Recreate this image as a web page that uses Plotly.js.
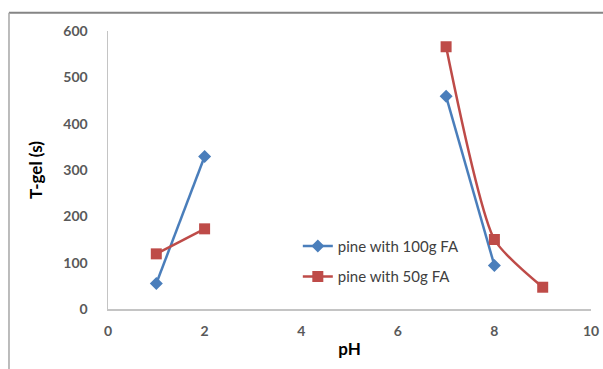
<!DOCTYPE html>
<html>
<head>
<meta charset="utf-8">
<script src="https://cdn.plot.ly/plotly-3.0.1.min.js"></script>
<style>
  html, body { margin: 0; padding: 0; background: #ffffff; }
  #chart { width: 603px; height: 369px; }
</style>
</head>
<body>
<div id="chart"></div>
<script>
// pH values; null splits each series into its acidic and alkaline branches
const ph = [1, 2, null, 7, 8, 9];

// gel time (s) for each mix
const pine100 = [55, 329, null, 459, 94, null];
const pine50  = [119, 173, null, 566, 150, 47];

const seriesNames = ['pine with 100g FA', 'pine with 50g FA'];

const xTicks = [0, 2, 4, 6, 8, 10];
const yTicks = [0, 100, 200, 300, 400, 500, 600];

const blue = '#4a7ebb';
const red = '#be4b48';

const traces = [
  {
    x: ph, y: pine100, name: seriesNames[0], type: 'scatter', mode: 'lines+markers',
    connectgaps: false, legendgroup: 'a',
    line: { color: blue, width: 2.5 },
    marker: { symbol: 'diamond', size: 10, color: blue }
  },
  {
    x: ph, y: pine50, name: seriesNames[1], type: 'scatter', mode: 'lines+markers',
    connectgaps: false, legendgroup: 'b',
    line: { color: red, width: 2.5, shape: 'spline', smoothing: 0.6 },
    marker: { symbol: 'square', size: 11, color: red }
  }
];

const font = { family: 'Lato, "Open Sans", sans-serif', color: '#595959' };

const layout = {
  width: 603, height: 369,
  margin: { l: 108, r: 12, t: 31, b: 60 },
  paper_bgcolor: '#ffffff',
  plot_bgcolor: '#ffffff',
  font: font,
  showlegend: true,
  legend: {
    x: 0.393, y: 0.285, xanchor: 'left', yanchor: 'top',
    bgcolor: 'rgba(0,0,0,0)',
    traceorder: 'grouped', tracegroupgap: 8,
    font: { family: font.family, size: 15, color: '#404040' }
  },
  xaxis: {
    range: [0, 10], tickvals: xTicks, ticktext: xTicks.map(String),
    showgrid: false, zeroline: false,
    showline: true, linecolor: '#c4c4c4', linewidth: 1.5,
    ticks: '', ticklabelstandoff: 9,
    tickfont: { family: font.family, size: 14, color: '#595959', weight: 'bold' },
    title: { text: 'pH', standoff: 5, font: { family: font.family, size: 17, color: '#000000', weight: 'bold' } }
  },
  yaxis: {
    range: [0, 600], tickvals: yTicks, ticktext: yTicks.map(String),
    showgrid: false, zeroline: false,
    showline: true, linecolor: '#c4c4c4', linewidth: 1.5,
    ticks: '', ticklabelstandoff: 16,
    tickfont: { family: font.family, size: 14, color: '#595959', weight: 'bold' },
    title: { text: 'T-gel (s)', standoff: 16, font: { family: font.family, size: 17, color: '#000000', weight: 'bold' } }
  },
  shapes: [
    // chart frame: top and left edges
    { type: 'line', xref: 'paper', yref: 'paper', x0: -0.205, x1: 1.03, y0: 1.066, y1: 1.066,
      line: { color: '#858585', width: 2 } },
    { type: 'line', xref: 'paper', yref: 'paper', x0: -0.205, x1: -0.205, y0: 1.066, y1: -0.25,
      line: { color: '#a6a6a6', width: 1.5 } }
  ]
};

Plotly.newPlot('chart', traces, layout, { displayModeBar: false, staticPlot: true });
</script>
</body>
</html>
